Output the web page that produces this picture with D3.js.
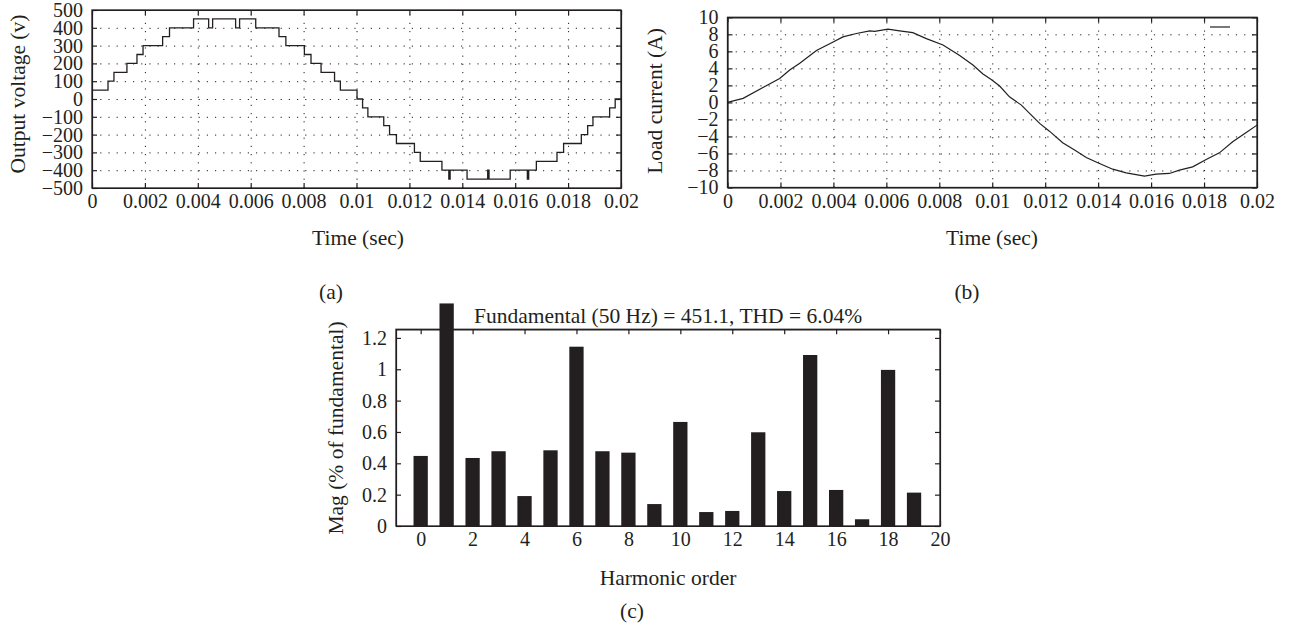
<!DOCTYPE html>
<html>
<head>
<meta charset="utf-8">
<script src="https://cdn.jsdelivr.net/npm/d3@7"></script>
<style>
  body { margin: 0; background: #fff; }
  svg text { font-family: "Liberation Serif", "DejaVu Serif", serif; fill: #231f20; }
  .grid line { stroke: #231f20; stroke-dasharray: 1.2,7; stroke-width: 1; }
  .grid path { display: none; }
  .ax path, .ax line { stroke: #231f20; stroke-width: 1.2; }
</style>
</head>
<body>
<svg id="chart" width="1292" height="629"></svg>
<script>
// (a) tension de sortie : instants de commutation (s) et niveaux (V)
const stepTimes = [0, 0.000605, 0.00083, 0.00132, 0.0017, 0.00193, 0.00267, 0.00293, 0.00384,
  0.00441, 0.00456, 0.00543, 0.00558, 0.00619, 0.00707, 0.00733, 0.00803, 0.00828, 0.00866,
  0.00917, 0.00939, 0.01002, 0.01023, 0.01043, 0.01103, 0.01125, 0.01151, 0.01219, 0.01241,
  0.01323, 0.01349, 0.01354, 0.01418, 0.01496, 0.01501, 0.01581, 0.01646, 0.01651, 0.0168,
  0.01758, 0.01783, 0.0185, 0.01874, 0.01894, 0.01957, 0.01978, 0.02];
const stepLevels = [50, 100, 150, 200, 250, 300, 350, 400, 450,
  400, 450, 400, 450, 400, 350, 300, 250, 200, 150,
  100, 50, 0, -50, -100, -150, -200, -250, -300, -350,
  -400, -450, -400, -450, -400, -450, -400, -450, -400, -350,
  -300, -250, -200, -150, -100, -50, 0, 0];

// (b) courant de charge
const curTimes = [0, 0.00059, 0.00134, 0.00197, 0.00235, 0.00273, 0.00336, 0.00399, 0.00436,
  0.00487, 0.00537, 0.00556, 0.00606, 0.0065, 0.007, 0.00751, 0.00814, 0.00877, 0.00927,
  0.00965, 0.00996, 0.01028, 0.01065, 0.0111, 0.01141, 0.01179, 0.01216, 0.01266, 0.01311,
  0.01355, 0.01405, 0.01455, 0.01506, 0.01575, 0.01619, 0.01669, 0.01707, 0.01757, 0.01808,
  0.01858, 0.01908, 0.01958, 0.02];
const curValues = [0, 0.47, 1.76, 2.8, 3.8, 4.6, 6.1, 7.1, 7.7,
  8.1, 8.4, 8.35, 8.6, 8.4, 8.2, 7.5, 6.75, 5.5, 4.39,
  3.33, 2.7, 1.92, 0.66, -0.32, -1.29, -2.47, -3.38, -4.75, -5.6,
  -6.47, -7.18, -7.85, -8.28, -8.67, -8.43, -8.35, -7.96, -7.57, -6.71,
  -5.93, -4.63, -3.57, -2.67];

// (c) spectre harmonique
const harmOrder = d3.range(0, 20);
const harmMag = [0.447, 1.42, 0.434, 0.477, 0.191, 0.483, 1.144, 0.477, 0.468, 0.14,
  0.664, 0.089, 0.096, 0.598, 0.223, 1.091, 0.23, 0.043, 0.996, 0.213];

// graduations
const timeTicks = d3.range(0, 11).map(i => i * 0.002);
const voltTicks = d3.range(-500, 501, 100);
const curTicks = d3.range(-10, 11, 2);
const magTicks = [0, 0.2, 0.4, 0.6, 0.8, 1, 1.2];
const orderTicks = d3.range(0, 21, 2);

const svg = d3.select("#chart");
const fs = 20;      // graduations
const fsLab = 21.5; // titres d'axes
const fmtT = d => String(+d.toFixed(4));
const fmtY = d3.format("~g");

// cadre avec graduations internes sur les quatre côtés
function frame(g, x, y, xt, yt, fx, fy, grid) {
  const [x0, x1] = x.range(), [y1, y0] = y.range();
  const w = x1 - x0, h = y1 - y0;
  if (grid) {
    g.append("g").attr("class", "grid").attr("transform", `translate(0,${y1})`)
      .call(d3.axisBottom(x).tickValues(xt.slice(1, -1)).tickSize(-h).tickFormat(""));
    g.append("g").attr("class", "grid").attr("transform", `translate(${x0},0)`)
      .call(d3.axisLeft(y).tickValues(yt.slice(1, -1)).tickSize(-w).tickFormat(""));
  }
  g.append("g").attr("class", "ax").attr("transform", `translate(0,${y1})`)
    .call(d3.axisBottom(x).tickValues(xt).tickSizeInner(-5).tickSizeOuter(0).tickPadding(6).tickFormat(fx))
    .call(a => a.selectAll("text").attr("font-size", fs));
  g.append("g").attr("class", "ax").attr("transform", `translate(0,${y0})`)
    .call(d3.axisTop(x).tickValues(xt).tickSizeInner(-5).tickSizeOuter(0).tickFormat(""));
  g.append("g").attr("class", "ax").attr("transform", `translate(${x0},0)`)
    .call(d3.axisLeft(y).tickValues(yt).tickSizeInner(-5).tickSizeOuter(0).tickPadding(9).tickFormat(fy))
    .call(a => a.selectAll("text").attr("font-size", fs));
  g.append("g").attr("class", "ax").attr("transform", `translate(${x1},0)`)
    .call(d3.axisRight(y).tickValues(yt).tickSizeInner(-5).tickSizeOuter(0).tickFormat(""));
  g.append("rect").attr("x", x0).attr("y", y0).attr("width", w).attr("height", h)
    .attr("fill", "none").attr("stroke", "#231f20").attr("stroke-width", 1.3);
}

function label(txt, x, y, rot) {
  svg.append("text").attr("x", x).attr("y", y).attr("text-anchor", "middle")
    .attr("font-size", fsLab).attr("transform", rot ? `rotate(-90,${x},${y})` : null).text(txt);
}

// ---- (a)
const xa = d3.scaleLinear().domain([0, 0.02]).range([92, 621]);
const ya = d3.scaleLinear().domain([-500, 500]).range([188, 10]);
const ga = svg.append("g");
frame(ga, xa, ya, timeTicks, voltTicks, fmtT, d3.format("d"), true);
ga.append("path")
  .datum(stepTimes.map((t, i) => [t, stepLevels[i]]))
  .attr("fill", "none").attr("stroke", "#231f20").attr("stroke-width", 1.3)
  .attr("d", d3.line().x(d => xa(d[0])).y(d => ya(d[1])).curve(d3.curveStepAfter));
label("Time (sec)", 358, 245);
label("(a)", 331, 299);
label("Output voltage (v)", 25, 94, true);

// ---- (b)
const xb = d3.scaleLinear().domain([0, 0.02]).range([727.5, 1257]);
const yb = d3.scaleLinear().domain([-10, 10]).range([187.5, 17.3]);
const gb = svg.append("g");
frame(gb, xb, yb, timeTicks, curTicks, fmtT, d3.format("d"), true);
gb.append("path")
  .datum(curTimes.map((t, i) => [t, curValues[i]]))
  .attr("fill", "none").attr("stroke", "#231f20").attr("stroke-width", 1.2)
  .attr("d", d3.line().x(d => xb(d[0])).y(d => yb(d[1])));
// légende vide
gb.append("line").attr("x1", 1210).attr("x2", 1230).attr("y1", 27).attr("y2", 27)
  .attr("stroke", "#231f20").attr("stroke-width", 1.2);
label("Time (sec)", 992, 245);
label("(b)", 967, 299);
label("Load current (A)", 662, 101, true);

// ---- (c)
const xc = d3.scaleLinear().domain([-0.95, 20]).range([396, 940]);
const yc = d3.scaleLinear().domain([0, 1.255]).range([526, 329.3]);
const gc = svg.append("g");
const bw = 0.55;
gc.selectAll("rect.bar").data(harmOrder).join("rect").attr("class", "bar")
  .attr("x", d => xc(d - bw / 2)).attr("width", xc(bw) - xc(0))
  .attr("y", (d, i) => yc(harmMag[i])).attr("height", (d, i) => yc(0) - yc(harmMag[i]))
  .attr("fill", "#231f20");
frame(gc, xc, yc, orderTicks, magTicks, d3.format("d"), fmtY, false);
gc.selectAll("rect.bar").raise();
label("Fundamental (50 Hz) = 451.1, THD = 6.04%", 668, 323);
label("Harmonic order", 668, 585);
label("(c)", 632, 618);
label("Mag (% of fundamental)", 343, 428, true);
</script>
</body>
</html>
